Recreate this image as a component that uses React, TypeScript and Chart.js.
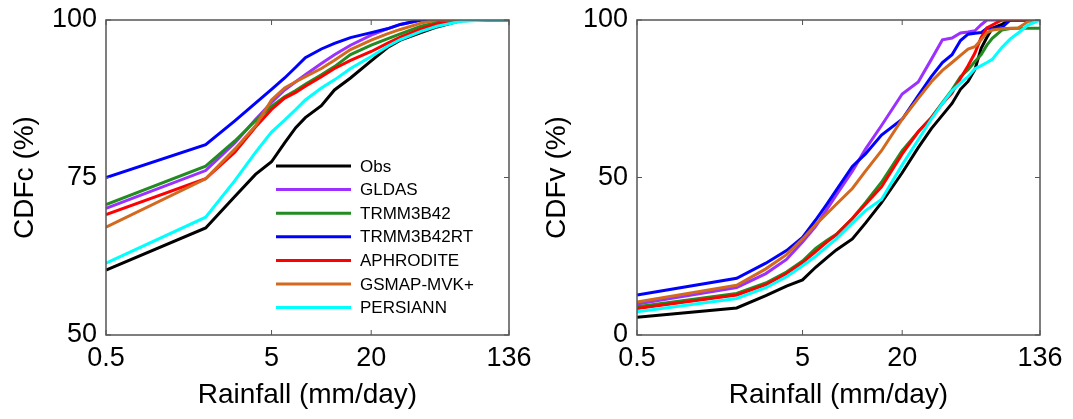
import React, { useEffect, useRef } from 'react';
import { Chart, registerables } from 'chart.js';

Chart.register(...registerables);

const seriesNames = ['Obs', 'GLDAS', 'TRMM3B42', 'TRMM3B42RT', 'APHRODITE', 'GSMAP-MVK+', 'PERSIANN'];
const seriesColors = ['#000000', '#9b30ff', '#228b22', '#0000ff', '#ff0000', '#d2691e', '#00ffff'];

const xTickValues = [0.5, 5, 20, 136];
const xTickLabels = ['0.5', '5', '20', '136'];
const cdfcTicks = [50, 75, 100];
const cdfvTicks = [0, 50, 100];

// Left panel: CDFc
const cdfcRainfall = [0.5, 2, 3, 4, 5, 6, 7, 8, 10, 12, 15, 20, 25, 30, 40, 50, 70, 100, 136];
const cdfcObs = [60.3, 67.0, 72.0, 75.5, 77.5, 80.5, 82.9, 84.5, 86.4, 88.9, 90.8, 93.5, 95.6, 96.8, 98.0, 98.9, 99.9, 100, 100];
const cdfcGLDAS = [70.1, 76.1, 80.5, 84.2, 86.9, 88.9, 90.2, 91.3, 93.1, 94.5, 96.0, 97.6, 98.6, 99.3, 100, 100, 100, 100, 100];
const cdfcTRMM = [70.7, 76.8, 80.8, 84.0, 86.3, 87.8, 88.8, 89.8, 91.3, 92.6, 94.5, 96.0, 97.0, 97.8, 99.0, 99.6, 100, 100, 100];
const cdfcTRMMRT = [75.0, 80.2, 84.0, 86.8, 89.0, 90.8, 92.5, 94.0, 95.4, 96.3, 97.2, 98.0, 98.6, 99.3, 100, 100, 100, 100, 100];
const cdfcAPHRO = [69.1, 74.8, 79.0, 83.0, 85.8, 87.6, 88.5, 89.5, 91.0, 92.3, 93.6, 95.0, 96.3, 97.3, 98.6, 99.4, 100, 100, 100];
const cdfcGSMAP = [67.1, 74.8, 79.5, 83.2, 87.3, 89.2, 90.2, 91.0, 92.3, 93.6, 95.3, 96.8, 97.8, 98.5, 99.5, 100, 100, 100, 100];
const cdfcPERSIANN = [61.4, 68.7, 74.5, 79.0, 82.2, 84.1, 85.8, 87.3, 89.2, 90.5, 92.3, 94.2, 95.8, 96.9, 98.2, 99.0, 99.8, 100, 100];

// Right panel: CDFv
const cdfvRainfall = [0.5, 2, 3, 4, 5, 6, 7, 8, 10, 12, 15, 20, 25, 30, 35, 40, 45, 50, 55, 60, 65, 70, 80, 90, 100, 115, 136];
const cdfvObs = [5.6, 8.6, 12.5, 15.5, 17.5, 21.5, 24.5, 27.0, 30.5, 35.5, 42.0, 51.5, 59.5, 65.5, 69.8, 73.5, 78.0, 80.5, 84.3, 91.0, 94.5, 97.4, 98.6, 100, 100, 100, 100];
const cdfvGLDAS = [9.8, 15.1, 19.5, 24.0, 29.5, 34.5, 39.8, 44.5, 52.0, 59.0, 66.5, 76.5, 80.3, 87.5, 93.7, 94.3, 95.9, 96.2, 96.6, 98.5, 100, 100, 100, 100, 100, 100, 100];
const cdfvTRMM = [9.0, 13.2, 16.5, 20.0, 23.5, 27.5, 30.0, 32.0, 37.0, 42.0, 48.5, 58.5, 64.5, 69.0, 73.8, 77.8, 82.0, 84.2, 86.8, 89.0, 92.0, 94.2, 96.8, 97.3, 97.4, 97.4, 97.4];
const cdfvTRMMRT = [12.7, 18.0, 22.8, 26.8, 31.0, 36.5, 41.5, 46.0, 53.5, 57.5, 63.5, 68.5, 76.0, 82.0, 86.5, 89.0, 93.5, 95.5, 95.8, 96.0, 97.4, 97.4, 97.6, 100, 100, 100, 100];
const cdfvAPHRO = [8.4, 12.7, 16.0, 19.5, 23.0, 26.5, 29.5, 31.8, 37.0, 41.5, 47.0, 57.5, 64.5, 69.0, 73.5, 76.8, 81.5, 85.5, 89.5, 94.5, 97.5, 98.4, 100, 100, 100, 100, 100];
const cdfvGSMAP = [10.5, 15.8, 21.0, 25.5, 30.5, 35.0, 38.5, 41.5, 46.5, 52.0, 58.5, 68.5, 75.1, 80.4, 84.0, 86.5, 88.8, 90.8, 91.5, 93.7, 96.0, 96.8, 97.2, 97.4, 97.4, 99.5, 100];
const cdfvPERSIANN = [7.4, 11.6, 15.0, 18.5, 22.0, 25.0, 28.0, 30.5, 35.5, 39.5, 43.0, 54.0, 62.0, 68.5, 73.5, 77.5, 80.0, 82.0, 84.5, 85.5, 86.5, 87.5, 91.3, 94.0, 95.8, 98.4, 100];

const FONT = '"Liberation Sans", Arial, Helvetica, sans-serif';

const framePlugin = {
  id: 'frame',
  afterDatasetsDraw(chart: any) {
    const { ctx, chartArea, scales } = chart;
    const { left, right, top, bottom } = chartArea;
    ctx.save();
    ctx.strokeStyle = '#555555';
    ctx.lineWidth = 1.5;
    ctx.strokeRect(left, top, right - left, bottom - top);
    const len = 5;
    ctx.lineWidth = 1;
    ctx.beginPath();
    xTickValues.forEach((v) => {
      const x = scales.x.getPixelForValue(v);
      ctx.moveTo(x, bottom);
      ctx.lineTo(x, bottom - len);
      ctx.moveTo(x, top);
      ctx.lineTo(x, top + len);
    });
    scales.y.ticks.forEach((t: any) => {
      const y = scales.y.getPixelForValue(t.value);
      ctx.moveTo(left, y);
      ctx.lineTo(left + len, y);
      ctx.moveTo(right, y);
      ctx.lineTo(right - len, y);
    });
    ctx.stroke();
    ctx.restore();
  },
};

const legendPlugin = {
  id: 'insideLegend',
  afterDraw(chart: any, _args: any, opts: any) {
    if (!opts || !opts.show) return;
    const { ctx } = chart;
    ctx.save();
    ctx.font = `17px ${FONT}`;
    ctx.textBaseline = 'middle';
    ctx.textAlign = 'left';
    const ds = chart.data.datasets;
    ds.forEach((d: any, i: number) => {
      const y = opts.y0 + i * opts.step;
      ctx.strokeStyle = d.borderColor;
      ctx.lineWidth = 3;
      ctx.beginPath();
      ctx.moveTo(opts.x0, y);
      ctx.lineTo(opts.x1, y);
      ctx.stroke();
      ctx.fillStyle = '#000';
      ctx.fillText(d.label, opts.xt, y + 1);
    });
    ctx.restore();
  },
};

type PanelProps = {
  width: number;
  xs: number[];
  series: number[][];
  yMin: number;
  yMax: number;
  yTicks: number[];
  yTitle: string;
  yAxisWidth: number;
  rightPad: number;
  yTitlePad: number;
  legend: boolean;
};

function series2datasets(xs: number[], series: number[][]) {
  return series.map((ys, i) => ({
    label: seriesNames[i],
    data: xs.map((x, j) => ({ x, y: ys[j] })),
    borderColor: seriesColors[i],
    backgroundColor: seriesColors[i],
    borderWidth: 3,
    fill: false,
    order: series.length - i,
  }));
}

function Panel(p: PanelProps) {
  const ref = useRef<HTMLCanvasElement | null>(null);
  useEffect(() => {
    if (!ref.current) return;
    const datasets = series2datasets(p.xs, p.series);
    const chart = new Chart(ref.current, {
      type: 'line',
      data: { datasets },
      plugins: [framePlugin, legendPlugin],
      options: {
        responsive: false,
        animation: false,
        events: [],
        layout: { padding: { top: 20, right: p.rightPad, left: 0, bottom: 0 } },
        elements: { point: { radius: 0 }, line: { tension: 0 } },
        plugins: {
          legend: { display: false },
          tooltip: { enabled: false },
          insideLegend: { show: p.legend, x0: 276, x1: 351, xt: 360, y0: 166, step: 23.6 },
        } as any,
        scales: {
          x: {
            type: 'logarithmic',
            min: 0.5,
            max: 136,
            grid: { display: false, drawTicks: false },
            border: { display: false },
            afterBuildTicks: (scale: any) => {
              scale.ticks = xTickValues.map((v) => ({ value: v }));
            },
            afterFit: (scale: any) => {
              scale.height = 84;
              scale.paddingLeft = 0;
              scale.paddingRight = 0;
            },
            ticks: {
              autoSkip: false,
              maxRotation: 0,
              padding: 7,
              color: '#000',
              font: { family: FONT, size: 27 },
              callback: (v: any) => {
                const i = xTickValues.indexOf(Number(v));
                return i >= 0 ? xTickLabels[i] : '';
              },
            },
            title: {
              display: true,
              text: 'Rainfall (mm/day)',
              color: '#000',
              font: { family: FONT, size: 28 },
              padding: { top: 0, bottom: 7 },
            },
          },
          y: {
            type: 'linear',
            min: p.yMin,
            max: p.yMax,
            grid: { display: false, drawTicks: false },
            border: { display: false },
            afterBuildTicks: (scale: any) => {
              scale.ticks = p.yTicks.map((v) => ({ value: v }));
            },
            afterFit: (scale: any) => {
              scale.width = p.yAxisWidth;
              scale.paddingTop = 0;
              scale.paddingBottom = 0;
            },
            ticks: {
              padding: 9,
              color: '#000',
              font: { family: FONT, size: 27 },
              callback: (v: any) => String(v),
            },
            title: {
              display: true,
              text: p.yTitle,
              color: '#000',
              font: { family: FONT, size: 28 },
              padding: { top: p.yTitlePad, bottom: 0 },
            },
          },
        },
      } as any,
    });
    return () => chart.destroy();
  }, []);
  return <canvas ref={ref} width={p.width} height={419} style={{ display: 'block', width: p.width, height: 419 }} />;
}

export default function App() {
  return (
    <div style={{ position: 'fixed', left: 0, top: 0, width: 1073, height: 419, background: '#fff', display: 'flex' }}>
      <Panel
        width={540}
        xs={cdfcRainfall}
        series={[cdfcObs, cdfcGLDAS, cdfcTRMM, cdfcTRMMRT, cdfcAPHRO, cdfcGSMAP, cdfcPERSIANN]}
        yMin={50}
        yMax={100}
        yTicks={cdfcTicks}
        yTitle="CDFc (%)"
        yAxisWidth={106}
        rightPad={31}
        yTitlePad={8}
        legend={true}
      />
      <Panel
        width={533}
        xs={cdfvRainfall}
        series={[cdfvObs, cdfvGLDAS, cdfvTRMM, cdfvTRMMRT, cdfvAPHRO, cdfvGSMAP, cdfvPERSIANN]}
        yMin={0}
        yMax={100}
        yTicks={cdfvTicks}
        yTitle="CDFv (%)"
        yAxisWidth={97}
        rightPad={33}
        yTitlePad={0}
        legend={false}
      />
    </div>
  );
}
